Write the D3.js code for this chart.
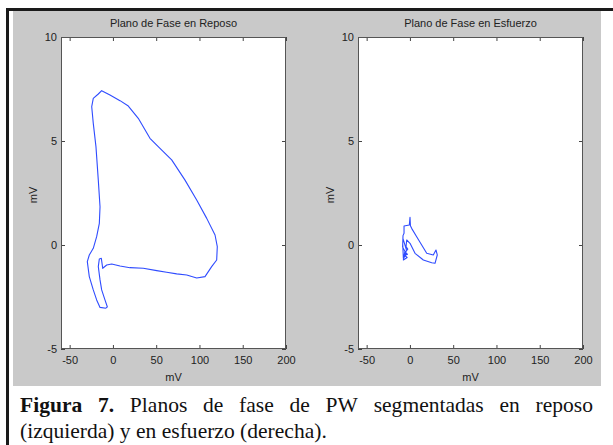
<!DOCTYPE html>
<html>
<head>
<meta charset="utf-8">
<script src="https://cdn.jsdelivr.net/npm/d3@7.8.5/dist/d3.min.js"></script>
<style>
  html, body { margin: 0; padding: 0; background: #fff; }
  svg { display: block; }
</style>
</head>
<body>
<svg id="fig" width="613" height="445"></svg>
<script>
// axis setup shared by both panels
const xDomain = [-60, 200]
const yDomain = [-5, 10]
const xTicks = [-50, 0, 50, 100, 150, 200]
const yTicks = [-5, 0, 5, 10]

const titles = ["Plano de Fase en Reposo", "Plano de Fase en Esfuerzo"]
const axisLabel = "mV"

// phase trajectory at rest
const reposoX = [-8.0, -14.9, -18.8, -22.7, -27.3, -29.6, -27.3, -22.7, -18.8, -15.7, -14.9, -16.9,
  -19.6, -22.7, -24.5, -22.7, -16.9, -13.0, -3.4, 8.2, 17.8, 29.3, 42.8, 54.4, 67.9, 83.3,
  96.8, 108.4, 118.0, 120.6, 119.9, 114.1, 106.4, 96.8, 85.3, 73.7, 62.1, 50.6, 35.1, 19.7,
  8.2, -1.4, -7.2, -11.8, -13.4, -15.7, -16.9, -14.9, -13.0, -9.2, -6.5, -8.0]
const reposoY = [-3.04, -3.0, -2.64, -2.16, -1.52, -0.80, -0.48, -0.16, 0.40, 1.04, 1.84, 3.12,
  4.73, 5.85, 6.65, 7.05, 7.26, 7.42, 7.21, 6.94, 6.68, 6.09, 5.13, 4.65, 4.09, 3.12,
  2.16, 1.28, 0.48, -0.08, -0.72, -1.04, -1.52, -1.59, -1.44, -1.39, -1.31, -1.23, -1.12, -1.09,
  -1.01, -0.91, -0.96, -1.12, -0.64, -0.67, -1.04, -1.68, -2.16, -2.64, -2.97, -3.04]

// phase trajectory under effort
const esfuerzoX = [-5.0, -7.6, -8.3, -8.0, -6.8, -6.8, -0.7, 0.1, 0.6, 2.0, 7.8, 13.6, 19.4, 27.0,
  30.1, 31.6, 29.0, 25.2, 15.5, 5.9, 0.1, -3.7, -4.5, -2.5, -5.5, -2.8, -6.0, -3.2, -7.6,
  -5.8, -8.5, -8.0, -6.5, -4.0, -6.2, -3.5, -5.0]
const esfuerzoY = [-0.5, -0.64, 0.05, 0.45, 0.56, 0.91, 0.96, 1.33, 0.92, 0.80, 0.40, 0.0, -0.40, -0.48,
  -0.24, -0.48, -0.88, -0.85, -0.72, -0.40, 0.08, 0.24, -0.08, -0.2, -0.35, -0.45, -0.5, -0.6, -0.72,
  -0.3, -0.1, 0.3, 0.1, -0.25, -0.55, -0.4, -0.5]

const captionBold = ["Figura", "7."]
const captionLine1 = ["Planos", "de", "fase", "de", "PW", "segmentadas", "en", "reposo"]
const captionLine2 = "(izquierda) y en esfuerzo (derecha)."

const svg = d3.select("#fig")
const font = "'Liberation Sans', Arial, sans-serif"
const inkColor = "#222"

// frame of the figure
svg.append("rect").attr("x", 13).attr("y", 11).attr("width", 588).attr("height", 375).attr("fill", "#c9c9c9")
svg.append("line").attr("x1", 6).attr("x2", 613).attr("y1", 9.5).attr("y2", 9.5)
  .attr("stroke", "#1a1a1a").attr("stroke-width", 3)
svg.append("line").attr("x1", 7.5).attr("x2", 7.5).attr("y1", 8).attr("y2", 445)
  .attr("stroke", "#1a1a1a").attr("stroke-width", 3)

function drawPanel(left, right, title, xs, ys) {
  const top = 37, bottom = 349
  const x = d3.scaleLinear().domain(xDomain).range([left, right])
  const y = d3.scaleLinear().domain(yDomain).range([bottom, top])
  const g = svg.append("g")

  g.append("rect").attr("x", left).attr("y", top).attr("width", right - left).attr("height", bottom - top)
    .attr("fill", "#fff")

  const clip = "clip" + left
  g.append("clipPath").attr("id", clip).append("rect")
    .attr("x", left).attr("y", top).attr("width", right - left).attr("height", bottom - top)

  const line = d3.line().x(i => x(xs[i])).y(i => y(ys[i])).curve(d3.curveLinear)
  g.append("path").datum(d3.range(xs.length))
    .attr("clip-path", `url(#${clip})`)
    .attr("d", line).attr("fill", "none").attr("stroke", "#2f4cff").attr("stroke-width", 1.1)
    .attr("stroke-linejoin", "round")

  const style = sel => {
    sel.select(".domain").remove()
    sel.selectAll(".tick line").attr("stroke", "#444")
    sel.selectAll("text").attr("font-family", font).attr("font-size", 11).attr("fill", inkColor)
  }
  const plain = d => String(d)   // keep the hyphen minus, like the original

  g.append("g").attr("transform", `translate(0,${bottom})`)
    .call(d3.axisBottom(x).tickValues(xTicks).tickFormat(plain).tickSize(-4).tickPadding(7)).call(style)
  g.append("g").attr("transform", `translate(0,${top})`)
    .call(d3.axisTop(x).tickValues(xTicks).tickSize(-4).tickFormat("")).call(style)
  g.append("g").attr("transform", `translate(${left},0)`)
    .call(d3.axisLeft(y).tickValues(yTicks).tickFormat(plain).tickSize(-4).tickPadding(4)).call(style)
  g.append("g").attr("transform", `translate(${right},0)`)
    .call(d3.axisRight(y).tickValues(yTicks).tickSize(-4).tickFormat("")).call(style)

  g.append("rect").attr("x", left + 0.5).attr("y", top + 0.5)
    .attr("width", right - left - 1).attr("height", bottom - top - 1)
    .attr("fill", "none").attr("stroke", "#555")

  g.append("text").attr("x", (left + right) / 2).attr("y", 27).attr("text-anchor", "middle")
    .attr("font-family", font).attr("font-size", 11).attr("fill", inkColor).text(title)
  g.append("text").attr("x", (left + right) / 2).attr("y", 381).attr("text-anchor", "middle")
    .attr("font-family", font).attr("font-size", 11).attr("fill", inkColor).text(axisLabel)
  g.append("text").attr("transform", `translate(${left - 24},${(top + bottom) / 2 + 2}) rotate(-90)`)
    .attr("text-anchor", "middle")
    .attr("font-family", font).attr("font-size", 11).attr("fill", inkColor).text(axisLabel)
}

drawPanel(61, 286, titles[0], reposoX, reposoY)
drawPanel(358, 583, titles[1], esfuerzoX, esfuerzoY)

// caption, first line justified between the margins
const serif = "'Liberation Serif', 'Times New Roman', serif"
const capLeft = 20, capRight = 593, line2Right = 327
const cap = svg.append("g")
const line2 = cap.append("text").attr("x", 0).attr("y", 438)
  .attr("font-family", serif).attr("font-size", 21).attr("fill", "#111").text(captionLine2)
// small horizontal correction so the second line ends where the printed one does
const sx = (line2Right - capLeft) / line2.node().getComputedTextLength()
cap.attr("transform", `translate(${capLeft},0) scale(${sx},1)`)

const words = captionBold.map(w => ({w, bold: true})).concat(captionLine1.map(w => ({w, bold: false})))
const nodes = words.map(d => cap.append("text").attr("y", 412)
  .attr("font-family", serif).attr("font-size", 21).attr("fill", "#111")
  .attr("font-weight", d.bold ? "bold" : "normal").text(d.w))
const widths = nodes.map(n => n.node().getComputedTextLength())
const span = (capRight - capLeft) / sx
const gap = (span - d3.sum(widths)) / (nodes.length - 1)
let cx = 0
nodes.forEach((n, i) => { n.attr("x", cx); cx += widths[i] + gap })
</script>
</body>
</html>
